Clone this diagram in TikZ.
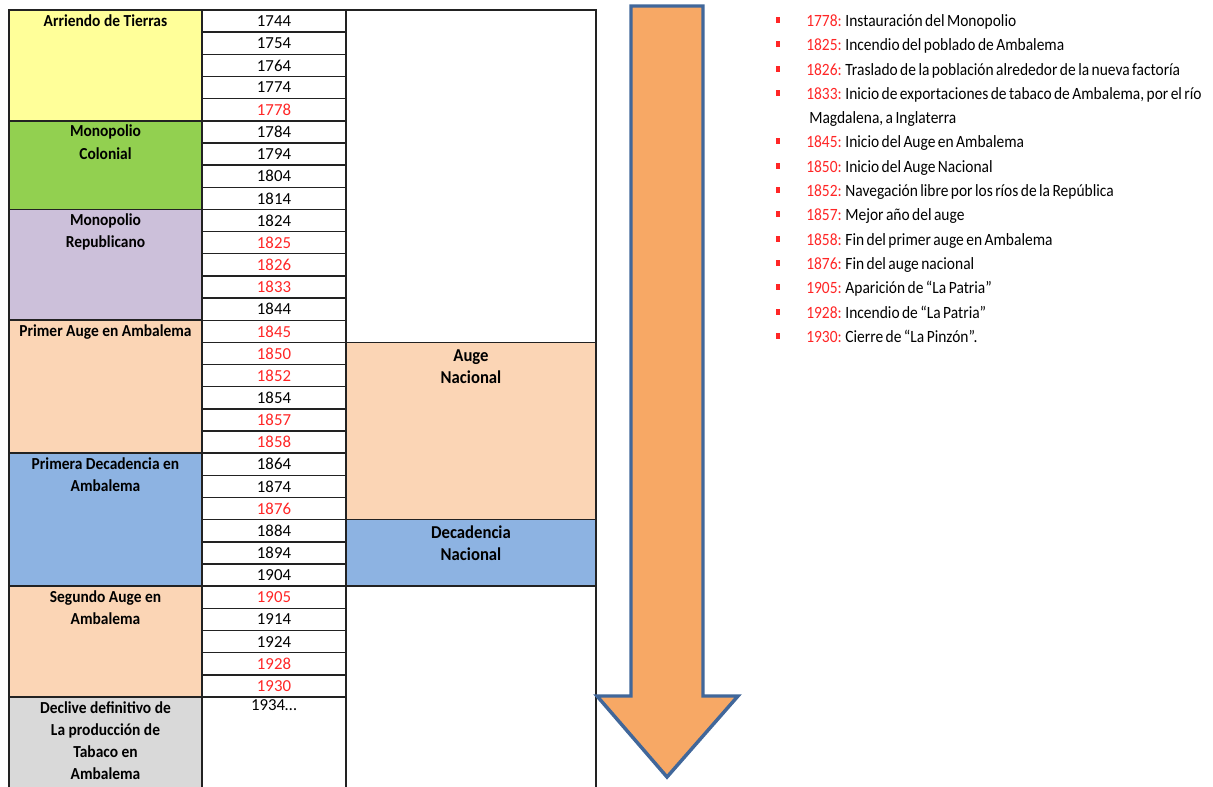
\documentclass[tikz,border=0pt]{standalone}
\usepackage{fontspec}
\setmainfont{Carlito}[FakeStretch=0.92]
\newfontfamily\yearfont{Carlito}
\newfontfamily\listfont{Carlito}[FakeStretch=0.9,WordSpace=0.7]
\definecolor{yel}{HTML}{FFFF99}
\definecolor{grn}{HTML}{92D050}
\definecolor{pur}{HTML}{CCC0DA}
\definecolor{pch}{HTML}{FBD5B5}
\definecolor{blu}{HTML}{8DB3E2}
\definecolor{gry}{HTML}{D9D9D9}
\definecolor{yr}{HTML}{FF2626}
\definecolor{arrfill}{HTML}{F7A865}
\definecolor{arrline}{HTML}{41679A}
\definecolor{tline}{HTML}{222222}
\tikzset{
  cellline/.style={draw=tline, line width=1.1pt},
  yearcell/.style={cellline, fill=white, minimum width=108pt, minimum height=16.62pt, inner sep=0pt,
    font=\yearfont\fontsize{12.6}{15}\selectfont},
  grouplabel/.style={anchor=north, align=center, inner sep=0pt,
    font=\fontsize{12.6}{16.62}\selectfont\bfseries},
  natlabel/.style={anchor=north, align=center, inner sep=0pt,
    font=\fontsize{13.6}{16.62}\selectfont\bfseries},
  bulletmark/.style={fill=yr, minimum width=3pt, minimum height=3.8pt, inner sep=0pt},
  itemtext/.style={anchor=base west, inner sep=0pt, font=\listfont\fontsize{12.9}{15}\selectfont},
  bigarrow/.style={draw=arrline, fill=arrfill, line width=2.6pt, line join=miter}
}
\newcommand{\yrtxt}[1]{\textcolor{yr}{#1:}}
\begin{document}
\begin{tikzpicture}[x=0.75pt,y=-0.75pt]
\useasboundingbox (0,0) rectangle (1213,786);
\clip (0,0) rectangle (1213,786);
% column 1 groups
\draw[cellline, fill=yel] (9,10) rectangle (202,120.8);
\draw[cellline, fill=grn] (9,120.8) rectangle (202,209.4);
\draw[cellline, fill=pur] (9,209.4) rectangle (202,320.2);
\draw[cellline, fill=pch] (9,320.2) rectangle (202,453.2);
\draw[cellline, fill=blu] (9,453.2) rectangle (202,586.2);
\draw[cellline, fill=pch] (9,586.2) rectangle (202,697);
\draw[cellline, fill=gry] (9,697) rectangle (202,790);
\node[grouplabel] (g1) at (105.5,14) {Arriendo de Tierras};
\node[grouplabel] (g2) at (105.5,124.8) {Monopolio\\Colonial};
\node[grouplabel] (g3) at (105.5,213.4) {Monopolio\\Republicano};
\node[grouplabel] (g4) at (105.5,324.2) {Primer Auge en Ambalema};
\node[grouplabel] (g5) at (105.5,457.2) {Primera Decadencia en\\Ambalema};
\node[grouplabel] (g6) at (105.5,590.2) {Segundo Auge en\\Ambalema};
\node[grouplabel] (g7) at (105.5,701) {Declive definitivo de\\La producción de\\Tabaco en\\Ambalema};
% column 3
\draw[cellline, fill=white] (346,10) rectangle (596,342.4);
\draw[cellline, fill=pch] (346,342.4) rectangle (596,519.7);
\draw[cellline, fill=blu] (346,519.7) rectangle (596,586.2);
\draw[cellline, fill=white] (346,586.2) rectangle (596,790);
\node[natlabel] (n1) at (471,349) {Auge\\Nacional};
\node[natlabel] (n2) at (471,525.5) {Decadencia\\Nacional};
% column 2 years
\foreach \yv/\c [count=\i from 0] in {1744/black,1754/black,1764/black,1774/black,1778/yr,
  1784/black,1794/black,1804/black,1814/black,1824/black,1825/yr,1826/yr,1833/yr,1844/black,
  1845/yr,1850/yr,1852/yr,1854/black,1857/yr,1858/yr,1864/black,1874/black,1876/yr,
  1884/black,1894/black,1904/black,1905/yr,1914/black,1924/black,1928/yr,1930/yr}{
  \node[yearcell, text=\c] (y\yv) at (274,{10+22.16*\i+11.08}) {\yv};
}
\draw[cellline, fill=white] (202,697) rectangle (346,790);
\node[anchor=north, inner sep=0pt, font=\yearfont\fontsize{12.6}{15}\selectfont] (y1934) at (274,699) {1934…};
% arrow
\draw[bigarrow] (631,6) -- (703,6) -- (703,696) -- (738,696) -- (667,777) -- (597,696) -- (631,696) -- cycle;
% list
\foreach \by/\nm in {26/a,50/b,75/c,99/d,147/e,172/f,196/g,220/h,245/i,269/j,293/k,318/l,342/m}{
  \node[bulletmark] (b\nm) at (778,{\by-6}) {};
}
\node[itemtext] (ta) at (806,26) {\yrtxt{1778} Instauración del Monopolio};
\node[itemtext] (tb) at (806,50) {\yrtxt{1825} Incendio del poblado de Ambalema};
\node[itemtext] (tc) at (806,75) {\yrtxt{1826} Traslado de la población alrededor de la nueva factoría};
\node[itemtext] (td) at (806,99) {\yrtxt{1833} Inicio de exportaciones de tabaco de Ambalema, por el río};
\node[itemtext] (td2) at (809,123) {Magdalena, a Inglaterra};
\node[itemtext] (te) at (806,147) {\yrtxt{1845} Inicio del Auge en Ambalema};
\node[itemtext] (tf) at (806,172) {\yrtxt{1850} Inicio del Auge Nacional};
\node[itemtext] (tg) at (806,196) {\yrtxt{1852} Navegación libre por los ríos de la República};
\node[itemtext] (th) at (806,220) {\yrtxt{1857} Mejor año del auge};
\node[itemtext] (ti) at (806,245) {\yrtxt{1858} Fin del primer auge en Ambalema};
\node[itemtext] (tj) at (806,269) {\yrtxt{1876} Fin del auge nacional};
\node[itemtext] (tk) at (806,293) {\yrtxt{1905} Aparición de “La Patria”};
\node[itemtext] (tl) at (806,318) {\yrtxt{1928} Incendio de “La Patria”};
\node[itemtext] (tm) at (806,342) {\yrtxt{1930} Cierre de “La Pinzón”.};
\end{tikzpicture}
\end{document}
